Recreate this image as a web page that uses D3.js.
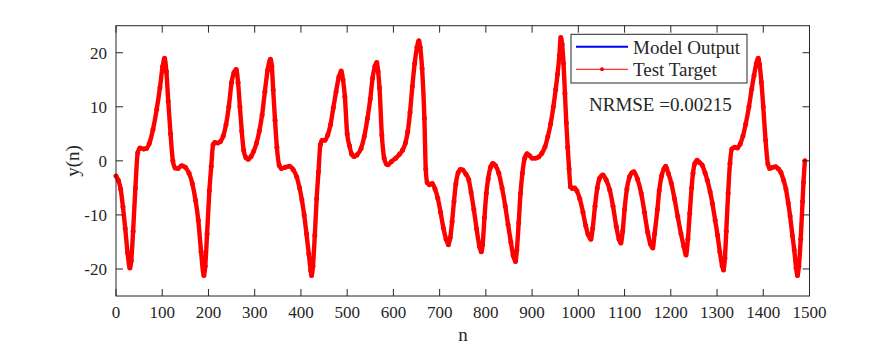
<!DOCTYPE html>
<html><head><meta charset="utf-8">
<script src="https://cdn.jsdelivr.net/npm/d3@7"></script>
<style>body{margin:0;background:#fff}svg{display:block}text{font-family:"Liberation Serif","Times New Roman",serif;fill:#262626}</style>
</head><body><svg id="c" width="894" height="347"></svg>
<script>
const sampleN = [0,5,10,15,20,25,30,33,37,42,47,52,60,66,72,80,88,95,101,105,109,113,118,123,128,134,142,150,158,165,172,178,184,190,193,197,202,206,210,214,220,226,232,238,244,250,255,260,264,268,272,276,281,286,292,298,304,310,316,322,328,334,337,340,344,348,353,358,366,375,383,391,397,402,407,412,417,421,423,426,430,434,438,442,446,452,458,464,470,476,482,487,491,495,500,505,510,515,521,530,537,544,550,555,560,564,567,570,575,580,585,588,596,605,613,620,626,631,636,641,646,651,655,658,662,667,670,673,678,684,690,696,702,708,714,719,723,727,731,735,740,745,750,757,763,768,774,780,786,790,793,797,801,805,810,815,821,828,835,842,848,854,859,864,867,871,875,879,884,889,894,900,907,914,921,928,934,940,946,951,955,959,962,965,968,971,974,977,980,983,987,992,997,1003,1010,1016,1021,1027,1031,1036,1041,1046,1053,1060,1068,1075,1082,1088,1092,1096,1100,1105,1111,1116,1120,1128,1136,1143,1150,1156,1161,1165,1171,1175,1180,1185,1189,1195,1201,1208,1215,1222,1228,1233,1237,1241,1245,1248,1252,1257,1262,1268,1274,1279,1285,1290,1296,1301,1306,1311,1314,1317,1320,1324,1328,1332,1338,1344,1350,1356,1362,1369,1375,1380,1385,1389,1392,1396,1400,1405,1410,1414,1420,1427,1433,1438,1444,1449,1454,1458,1463,1467,1471,1474,1477,1481,1485,1487,1490];
const targetY = [-2.8,-3.6,-5.2,-8.5,-12.5,-17,-19.8,-18.5,-13,-5,1.5,2.4,2.2,2.3,3.2,5.8,9.5,13.5,17.5,19,16.5,11,5,0,-1.3,-1.4,-0.9,-1.2,-2.3,-4.2,-7.3,-11,-16.8,-21.2,-19.5,-13.5,-5.5,-1,3,3.4,3.3,3.6,4.6,6.7,10,14.5,16.3,16.9,14.5,10,5.5,2,0.6,0.3,0.8,1.8,3.3,5.5,8.5,12.8,16.8,18.8,17.5,13.1,7.5,2.5,-0.8,-1.4,-1.2,-1.0,-1.6,-3,-5,-7.2,-10,-13.5,-17.2,-20.2,-21.2,-19.5,-13.8,-7,-2,3,3.8,3.8,4.8,6.7,9.8,12.8,15.5,16.6,15,11.9,5,2.8,1.2,0.8,1.1,2.3,4.5,7.9,11.5,15.3,17.5,18.2,16.5,13.5,4.8,0.5,-0.6,-0.7,-0.1,0.5,1.2,2.0,3.3,5.4,9,13.8,18,21,22.2,21,17.1,7.9,-1.5,-4,-4.4,-4.2,-5.2,-6.9,-9.5,-12.4,-14.5,-15.5,-14.2,-11.2,-7.5,-4.3,-2.2,-1.6,-1.7,-2.5,-3.5,-5.8,-9,-12.6,-15.8,-16.8,-15.5,-10.5,-6,-3.3,-1.2,-0.5,-0.9,-2.3,-5,-8.4,-11.8,-15,-17.5,-18.6,-16.5,-11.5,-6,-2.3,0.5,1.3,1.0,0.5,0.5,0.7,1.4,2.6,4.5,6.8,10,13.2,16,19.5,22.8,21.5,18,12.5,7,2.5,-1.5,-4.8,-5.1,-5,-5.6,-7,-9.5,-12,-13.6,-14.5,-12.5,-8.4,-5,-3.2,-2.6,-3.5,-5.4,-8.4,-12.1,-14.5,-15.2,-13,-9,-5.2,-2.9,-2.2,-2.0,-3.4,-6,-9.5,-13.2,-15.4,-16.1,-13.5,-9,-5.5,-2.8,-1.5,-1.0,-2.4,-4.1,-7,-10.3,-13.5,-15.8,-17.4,-14.5,-9.7,-5,-2.3,-0.5,0.1,-0.3,-0.8,-2.2,-3.6,-5.7,-7.9,-11,-13.7,-16.8,-19.4,-20.2,-18,-13,-6,-0.5,2.2,2.5,2.4,3.1,4.6,6.8,10,13.3,15.8,18,19,17.8,14.5,10,3.8,-0.6,-1.4,-1.2,-1.1,-1.5,-2.1,-3.6,-5.2,-7.8,-10.2,-13.8,-16.5,-19.8,-21.2,-19.5,-14.5,-7.5,-4.0,0];
const modelY = targetY.slice();
const xTicks = [0,100,200,300,400,500,600,700,800,900,1000,1100,1200,1300,1400,1500];
const yTicks = [-20,-10,0,10,20];
const legendLabels = ["Model Output","Test Target"];
const nrmseText = "NRMSE =0.00215";

const svg = d3.select("#c");
svg.append("rect").attr("width",894).attr("height",347).attr("fill","#fff");
const L=116, R=809.5, T=25.7, B=296;
const x = d3.scaleLinear().domain([0,1500]).range([L,R]);
const y = d3.scaleLinear().domain([-25,25]).range([B,T]);
const ax = "#262626";

const tPts = sampleN.map((n,i)=>[n,targetY[i]]);
const mPts = sampleN.map((n,i)=>[n,modelY[i]]);
const line = d3.line().x(d=>x(d[0])).y(d=>y(d[1])).curve(d3.curveMonotoneX);

svg.append("path").attr("d",line(mPts)).attr("fill","none").attr("stroke","#0000ff").attr("stroke-width",1.5);
svg.append("path").attr("d",line(tPts)).attr("fill","none").attr("stroke","#ff0000").attr("stroke-width",4.4).attr("stroke-linejoin","round").attr("stroke-linecap","round");
svg.append("g").selectAll("circle").data(tPts).join("circle")
  .attr("cx",d=>x(d[0])).attr("cy",d=>y(d[1])).attr("r",2.5).attr("fill","#ff0000");

const g = svg.append("g");
g.append("rect").attr("x",L).attr("y",T).attr("width",R-L).attr("height",B-T).attr("fill","none").attr("stroke",ax).attr("stroke-width",1);
const tl = 7;
xTicks.forEach(v=>{
  g.append("line").attr("x1",x(v)).attr("x2",x(v)).attr("y1",B).attr("y2",B-tl).attr("stroke",ax);
  g.append("line").attr("x1",x(v)).attr("x2",x(v)).attr("y1",T).attr("y2",T+tl).attr("stroke",ax);
  g.append("text").attr("x",x(v)).attr("y",318).attr("text-anchor","middle").attr("font-size",17).text(v);
});
yTicks.forEach(v=>{
  g.append("line").attr("x1",L).attr("x2",L+tl).attr("y1",y(v)).attr("y2",y(v)).attr("stroke",ax);
  g.append("line").attr("x1",R).attr("x2",R-tl).attr("y1",y(v)).attr("y2",y(v)).attr("stroke",ax);
  g.append("text").attr("x",107).attr("y",y(v)+5.8).attr("text-anchor","end").attr("font-size",17).text(v<0?"-"+Math.abs(v):v);
});
g.append("text").attr("x",463).attr("y",341).attr("text-anchor","middle").attr("font-size",19).text("n");
g.append("text").attr("transform","translate(79,161) rotate(-90)").attr("text-anchor","middle").attr("font-size",19).text("y(n)");

const lg = svg.append("g");
lg.append("rect").attr("x",571).attr("y",34.3).attr("width",176).attr("height",48.7).attr("fill","#fff").attr("stroke",ax).attr("stroke-width",1);
lg.append("line").attr("x1",576).attr("x2",628).attr("y1",46.7).attr("y2",46.7).attr("stroke","#0000ff").attr("stroke-width",2);
lg.append("line").attr("x1",576).attr("x2",628).attr("y1",69.3).attr("y2",69.3).attr("stroke","#ff0000").attr("stroke-width",1);
lg.append("circle").attr("cx",602).attr("cy",69.3).attr("r",2).attr("fill","#ff0000");
lg.append("text").attr("x",633).attr("y",53.5).attr("font-size",19).text(legendLabels[0]);
lg.append("text").attr("x",633).attr("y",76).attr("font-size",19).text(legendLabels[1]);
svg.append("text").attr("x",589).attr("y",111).attr("font-size",19).text(nrmseText);
</script></body></html>
